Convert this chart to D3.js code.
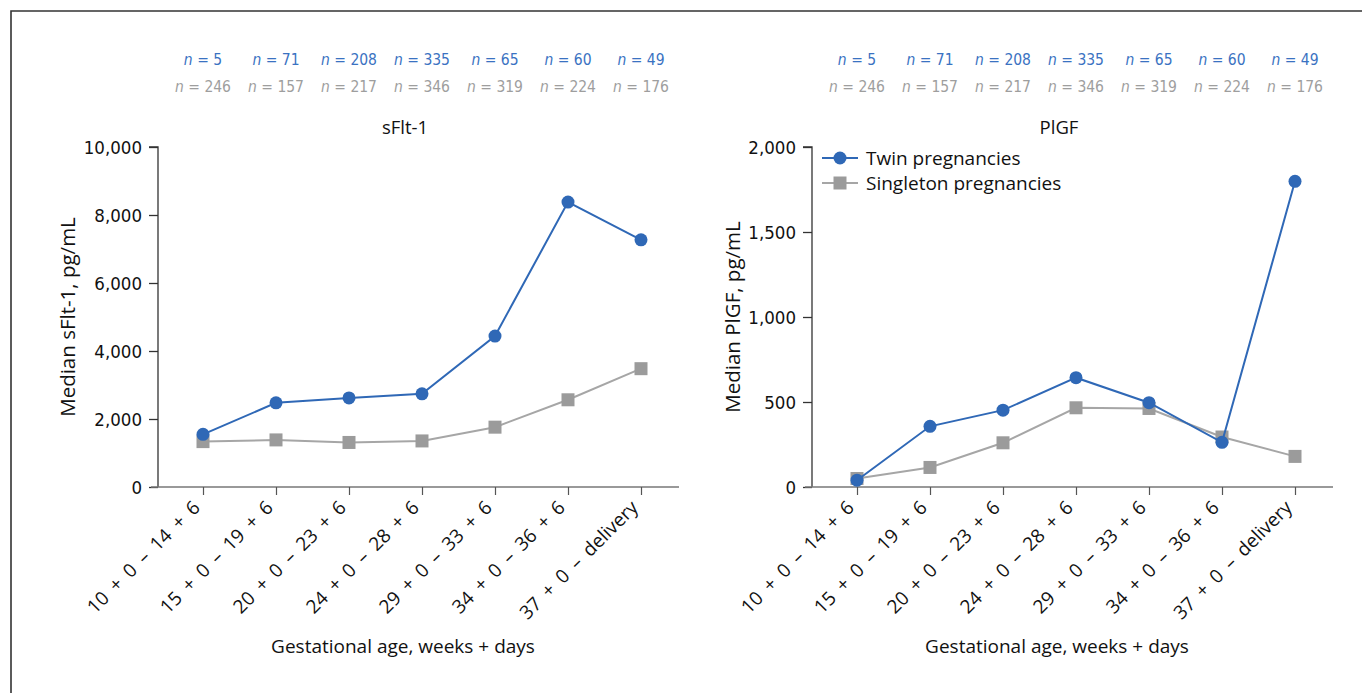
<!DOCTYPE html>
<html>
<head>
<meta charset="utf-8">
<script src="https://cdn.jsdelivr.net/npm/d3@7"></script>
<style>
  html, body { margin: 0; padding: 0; background: #fff; }
  svg { display: block; }
  text { font-family: "Open Sans", "Noto Sans", sans-serif; }
  .cond { font-family: "Liberation Sans Narrow", "DejaVu Sans Condensed", "Open Sans", sans-serif; }
</style>
</head>
<body>
<svg id="chart" width="1362" height="693"></svg>
<script>
// ---- data ----
const categories = ["10 + 0 – 14 + 6", "15 + 0 – 19 + 6", "20 + 0 – 23 + 6", "24 + 0 – 28 + 6",
                    "29 + 0 – 33 + 6", "34 + 0 – 36 + 6", "37 + 0 – delivery"];
const nTwin = [5, 71, 208, 335, 65, 60, 49];
const nSingleton = [246, 157, 217, 346, 319, 224, 176];
const sflt1Twin = [1550, 2475, 2620, 2740, 4440, 8380, 7270];
const sflt1Singleton = [1335, 1385, 1310, 1355, 1760, 2565, 3480];
const plgfTwin = [40, 357, 452, 643, 496, 263, 1798];
const plgfSingleton = [50, 115, 260, 466, 462, 294, 180];
const sfltTicks = [0, 2000, 4000, 6000, 8000, 10000];
const plgfTicks = [0, 500, 1000, 1500, 2000];
const seriesNames = ["Twin pregnancies", "Singleton pregnancies"];

const blue = "#2f68b6", blueText = "#3a72c2", gray = "#9b9b9b", grayLine = "#a6a6a6", grayText = "#9e9e9e";
const svg = d3.select("#chart");

// frame
svg.append("path").attr("d", "M11,693 L11,11 L1362,11").attr("fill", "none")
  .attr("stroke", "#333").attr("stroke-width", 1.6);

const fmt = d3.format(",");

function panel(opts) {
  const g = svg.append("g");
  const x = d3.scalePoint().domain(categories).range([opts.x0, opts.x0 + 438]);
  const y = d3.scaleLinear().domain([0, opts.max]).range([487, 147]);
  const axisLeft = opts.x0 - 45, axisRight = opts.x0 + 438 + 38;

  // n labels
  g.selectAll(".nt").data(nTwin).join("text")
    .attr("class", "cond").attr("x", (d, i) => x(categories[i])).attr("y", 65)
    .attr("text-anchor", "middle").attr("font-size", 15.5).attr("fill", blueText)
    .html(d => `<tspan font-style="italic">n</tspan> = ${d}`);
  g.selectAll(".ns").data(nSingleton).join("text")
    .attr("class", "cond").attr("x", (d, i) => x(categories[i])).attr("y", 92)
    .attr("text-anchor", "middle").attr("font-size", 15.5).attr("fill", grayText)
    .html(d => `<tspan font-style="italic">n</tspan> = ${d}`);

  // title
  const cx = opts.x0 + 219;
  g.append("text").attr("x", cx - 17).attr("y", 134).attr("text-anchor", "middle")
    .attr("font-size", 18.5).attr("fill", "#111").text(opts.title);

  // y axis
  const ya = g.append("g").attr("transform", `translate(${axisLeft},0)`)
    .call(d3.axisLeft(y).tickValues(opts.ticks).tickFormat(fmt).tickSize(9).tickPadding(7));
  ya.select(".domain").attr("stroke", "#333").attr("stroke-width", 1.3).attr("d", `M-9,${y(opts.max)}H0V487`);
  ya.selectAll(".tick line").attr("stroke", "#333").attr("stroke-width", 1.3);
  ya.selectAll(".tick text").attr("class", "cond").attr("font-size", 18.5).attr("fill", "#111").attr("dy", "0.36em");

  // x axis
  const xa = g.append("g").attr("transform", "translate(0,487)")
    .call(d3.axisBottom(x).tickSize(8).tickPadding(8));
  xa.select(".domain").attr("stroke", "#777").attr("stroke-width", 1.5)
    .attr("d", `M${axisLeft - 7},0H${axisRight}`);
  xa.selectAll(".tick line").attr("stroke", "#555").attr("stroke-width", 1.2);
  xa.selectAll(".tick text").attr("font-size", 19).attr("fill", "#111")
    .attr("text-anchor", "end").attr("dy", "0.35em").style("word-spacing", "4px")
    .attr("transform", "translate(-7,17) rotate(-45)").attr("x", 0).attr("y", 0);

  // axis titles
  g.append("text").attr("transform", `translate(${opts.ylabX},317) rotate(-90)`)
    .attr("text-anchor", "middle").attr("font-size", 20.5).attr("fill", "#111").text(opts.ylabel);
  g.append("text").attr("x", cx - 19).attr("y", 653).attr("text-anchor", "middle")
    .attr("font-size", 19).attr("fill", "#111").text("Gestational age, weeks + days");

  const line = d3.line().x((d, i) => x(categories[i])).y(d => y(d));
  // singleton
  g.append("path").datum(opts.single).attr("d", line).attr("fill", "none")
    .attr("stroke", grayLine).attr("stroke-width", 2);
  g.selectAll(".sq").data(opts.single).join("rect")
    .attr("x", (d, i) => x(categories[i]) - 6.5).attr("y", d => y(d) - 6.5)
    .attr("width", 13).attr("height", 13).attr("fill", gray);
  // twin
  g.append("path").datum(opts.twin).attr("d", line).attr("fill", "none")
    .attr("stroke", blue).attr("stroke-width", 2);
  g.selectAll(".ci").data(opts.twin).join("circle")
    .attr("cx", (d, i) => x(categories[i])).attr("cy", d => y(d)).attr("r", 6.5).attr("fill", blue);

  if (opts.legend) {
    const lg = g.append("g");
    const items = [{name: seriesNames[0], c: blue, shape: "circle", y: 158},
                   {name: seriesNames[1], c: gray, lc: grayLine, shape: "rect", y: 183}];
    items.forEach(it => {
      lg.append("line").attr("x1", 822).attr("x2", 858).attr("y1", it.y).attr("y2", it.y)
        .attr("stroke", it.lc || it.c).attr("stroke-width", 2);
      if (it.shape === "circle") lg.append("circle").attr("cx", 840).attr("cy", it.y).attr("r", 6.5).attr("fill", it.c);
      else lg.append("rect").attr("x", 833.5).attr("y", it.y - 6.5).attr("width", 13).attr("height", 13).attr("fill", it.c);
      lg.append("text").attr("x", 866).attr("y", it.y).attr("dy", "0.35em")
        .attr("font-size", 19).attr("fill", "#111").text(it.name);
    });
  }
}

panel({x0: 203, max: 10000, ticks: sfltTicks, title: "sFlt-1", ylabel: "Median sFlt-1, pg/mL",
       ylabX: 75, twin: sflt1Twin, single: sflt1Singleton, legend: false});
panel({x0: 857, max: 2000, ticks: plgfTicks, title: "PlGF", ylabel: "Median PlGF, pg/mL",
       ylabX: 740, twin: plgfTwin, single: plgfSingleton, legend: true});
</script>
</body>
</html>
